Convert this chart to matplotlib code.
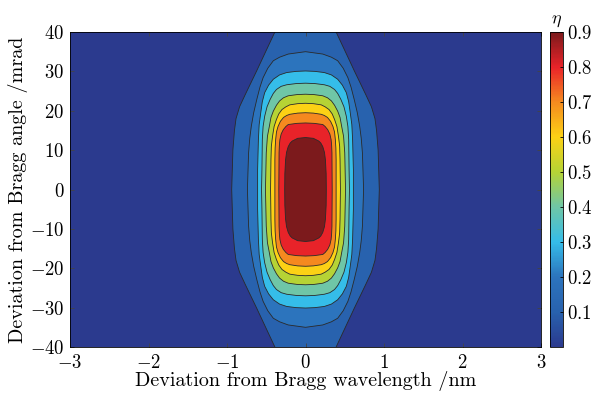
import numpy as np
import matplotlib
import matplotlib.pyplot as plt
from matplotlib.colors import LinearSegmentedColormap, Normalize
from matplotlib.cm import ScalarMappable

plt.rcParams['font.family'] = 'serif'
plt.rcParams['font.serif'] = ['cmr10', 'DejaVu Serif']
plt.rcParams['mathtext.fontset'] = 'cm'
plt.rcParams['axes.formatter.use_mathtext'] = True

# contour levels of diffraction efficiency
levels = [0.1, 0.2, 0.3, 0.4, 0.5, 0.6, 0.7, 0.8, 0.9]

# upper half of each contour: angle deviation (mrad) and half width in wavelength (nm)
ang_01 = [0, 10, 15, 18, 21, 24, 30, 40, 43]
hw_01 = [0.94, 0.925, 0.905, 0.885, 0.84, 0.77, 0.625, 0.39, 0.32]
ang_02 = [0, 9.3, 13, 16.1, 19.5, 22.9, 26, 28.4, 30.8, 32.7, 33.6, 34.4, 35.0]
hw_02 = [0.74, 0.725, 0.71, 0.69, 0.66, 0.62, 0.58, 0.54, 0.48, 0.41, 0.33, 0.22, 0.0]
ang_03 = [0, 5, 12.7, 16.5, 19.5, 22.3, 24.6, 26.5, 28.0, 29.1, 29.7, 30.0, 30.1]
hw_03 = [0.61, 0.61, 0.60, 0.59, 0.57, 0.55, 0.52, 0.47, 0.41, 0.33, 0.24, 0.12, 0.0]
ang_04 = [0, 5, 12.7, 16, 18.6, 21, 22.9, 24.4, 25.4, 26.2, 26.6, 26.9, 27.0]
hw_04 = [0.56, 0.555, 0.55, 0.54, 0.52, 0.49, 0.45, 0.41, 0.37, 0.31, 0.24, 0.12, 0.0]
ang_05 = [0, 9.3, 13.5, 16.1, 18.3, 19.9, 21.4, 22.5, 23.3, 23.8, 24.1, 24.2]
hw_05 = [0.51, 0.50, 0.485, 0.46, 0.44, 0.41, 0.37, 0.33, 0.28, 0.22, 0.11, 0.0]
ang_06 = [0, 7.6, 11, 13.5, 16, 17.8, 19.2, 20.3, 21.0, 21.5, 21.8, 21.9]
hw_06 = [0.445, 0.44, 0.435, 0.42, 0.40, 0.37, 0.34, 0.30, 0.25, 0.20, 0.10, 0.0]
ang_07 = [0, 7.6, 10.5, 12.7, 14.6, 16.0, 17.3, 18.3, 18.8, 19.1, 19.4, 19.5]
hw_07 = [0.39, 0.39, 0.387, 0.38, 0.37, 0.35, 0.32, 0.28, 0.24, 0.20, 0.10, 0.0]
ang_08 = [0, 9.3, 11.2, 12.7, 14.1, 15.2, 16.0, 16.5, 16.8, 16.9]
hw_08 = [0.34, 0.337, 0.333, 0.326, 0.31, 0.283, 0.25, 0.22, 0.11, 0.0]
ang_09 = [0, 4, 7.5, 9.4, 10.9, 11.8, 12.3, 13.0, 13.2]
hw_09 = [0.265, 0.263, 0.254, 0.242, 0.22, 0.195, 0.17, 0.10, 0.0]

angs = [ang_01, ang_02, ang_03, ang_04, ang_05, ang_06, ang_07, ang_08, ang_09]
hws = [hw_01, hw_02, hw_03, hw_04, hw_05, hw_06, hw_07, hw_08, hw_09]

xticks = [-3, -2, -1, 0, 1, 2, 3]
yticks = [-40, -30, -20, -10, 0, 10, 20, 30, 40]
cticks = [0.1, 0.2, 0.3, 0.4, 0.5, 0.6, 0.7, 0.8, 0.9]

# jet-like map as it looks in print
cmap = LinearSegmentedColormap.from_list('jetprint', [
    (0.0, '#2b3a8e'), (0.111, '#2862ae'), (0.222, '#2c74bd'),
    (0.333, '#35bde9'), (0.444, '#6fc6a6'), (0.556, '#b5d335'),
    (0.667, '#fcd115'), (0.778, '#f58b1f'), (0.889, '#e92329'),
    (1.0, '#7c1a1c')], N=256)
norm = Normalize(0.0, 0.9)

fig = plt.figure(figsize=(6.03, 3.97), dpi=100)
ax = fig.add_axes([70 / 603, 1 - 347 / 397, 471 / 603, 315 / 397])
ax.set_facecolor(cmap(norm(0.0)))

for lev, a, w in zip(levels, angs, hws):
    a = np.array(a)
    w = np.array(w)
    xs = np.concatenate([w, -w[::-1], -w, w[::-1]])
    ys = np.concatenate([a, a[::-1], -a, -a[::-1]])
    ax.fill(xs, ys, facecolor=cmap(norm(lev)), edgecolor='#2a2a2a', lw=0.6)

ax.set_xlim(-3, 3)
ax.set_ylim(-40, 40)
ax.set_xticks(xticks)
ax.set_yticks(yticks)
ax.tick_params(direction='in', length=3, width=0.6, top=True, right=True,
               labelsize=13.5, color='#444444')
ax.tick_params(axis='x', pad=5)
ax.tick_params(axis='y', pad=4)
for s in ax.spines.values():
    s.set_linewidth(0.6)
ax.set_xlabel('Deviation from Bragg wavelength /nm', fontsize=14.5, labelpad=-1)
ax.set_ylabel('Deviation from Bragg angle /mrad', fontsize=14.5, labelpad=1)

cax = fig.add_axes([550 / 603, 1 - 347 / 397, 13 / 603, 315 / 397])
cb = fig.colorbar(ScalarMappable(norm=norm, cmap=cmap), cax=cax)
cb.set_ticks(cticks)
cb.ax.tick_params(direction='in', length=2, width=0.6, labelsize=13.5, pad=3)
cb.outline.set_linewidth(0.6)
cax.text(0.5, 1.01, r'$\eta$', transform=cax.transAxes, ha='center', va='bottom',
         fontsize=13)

fig.savefig('out.png', dpi=100)
